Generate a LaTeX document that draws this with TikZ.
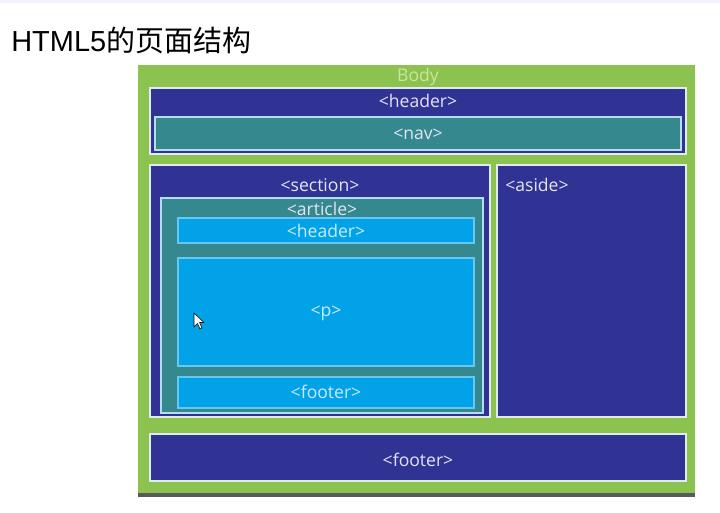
\documentclass[tikz,border=0pt]{standalone}
\usepackage{fontspec}
\setmainfont{Open Sans}
\newfontfamily\titlefont{Liberation Sans}
\newfontfamily\cjk{Noto Sans CJK SC}

\definecolor{bodygreen}{RGB}{140,194,80}
\definecolor{bodytext}{RGB}{200,230,160}
\definecolor{darkblue}{RGB}{48,51,148}
\definecolor{tealbox}{RGB}{52,136,142}
\definecolor{skyblue}{RGB}{2,162,232}
\definecolor{paleline}{RGB}{225,236,240}
\definecolor{boxtext}{RGB}{228,228,245}
\definecolor{skytext}{RGB}{200,235,250}

\begin{document}
\begin{tikzpicture}[x=0.025cm, y=-0.025cm,
    every node/.style={font=\fontsize{12.5}{14}\selectfont, text=boxtext, inner sep=0pt},
    darkpanel/.style={fill=darkblue, draw=paleline, line width=1.6pt},
    tealpanel/.style={fill=tealbox, draw=paleline!80!skyblue, line width=1.2pt},
    skypanel/.style={fill=skyblue, draw=skyblue!60!white, line width=1pt},
    skylbl/.style={text=skytext}]
    \useasboundingbox (0,0) rectangle (720,512);
    \fill[white] (0,0) rectangle (720,512);
    \fill[blue!5] (0,0) rectangle (720,3);

    % Title
    \node[anchor=west, text=black, font=\fontsize{20.6}{24}\selectfont] (title) at (11,40)
        {\titlefont HTML5\cjk 的页面结构};

    % Body
    \fill[black!65] (138,490) rectangle (695,497);
    \fill[bodygreen] (138,65) rectangle (695,493);
    \node[text=bodytext] (bodylbl) at (418,77) {Body};

    % Header with nav
    \draw[darkpanel] (150,88) rectangle (686,154);
    \node (headerlbl) at (418,101) {<header>};
    \draw[tealpanel] (155,117) rectangle (681,150);
    \node (navlbl) at (418,134) {<nav>};

    % Section
    \draw[darkpanel] (150,165) rectangle (490,417);
    \node (sectionlbl) at (320,185) {<section>};

    % Article
    \draw[tealpanel] (161,198) rectangle (483,413);
    \node (articlelbl) at (322,209) {<article>};
    \draw[skypanel] (178,218) rectangle (474,243);
    \node[skylbl] (artheaderlbl) at (326,231) {<header>};
    \draw[skypanel] (178,258) rectangle (474,366);
    \node[skylbl] (plbl) at (326,313) {<p>};
    \draw[skypanel] (178,377) rectangle (474,408);
    \node[skylbl] (artfooterlbl) at (326,392) {<footer>};

    % Aside
    \draw[darkpanel] (497,165) rectangle (686,417);
    \node[anchor=west] (asidelbl) at (505,185) {<aside>};

    % Footer
    \draw[darkpanel] (150,434) rectangle (686,481);
    \node (footerlbl) at (418,460) {<footer>};

    % Mouse pointer
    \draw[fill=white, line width=0.4pt, line join=round]
        (194,313) -- (194,327) -- (197.5,323.5) -- (200,329) -- (202,328)
        -- (199.5,322.5) -- (204,322.5) -- cycle;
\end{tikzpicture}
\end{document}
